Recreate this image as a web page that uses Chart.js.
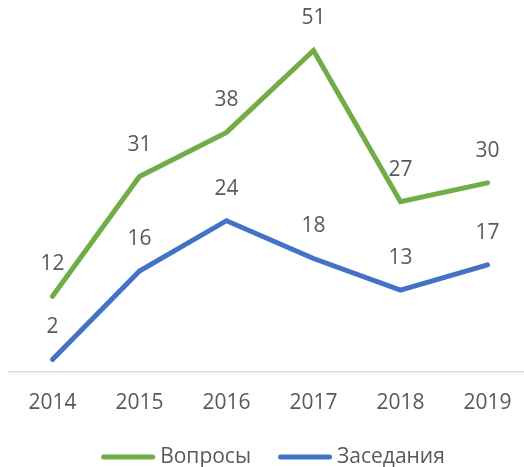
<!DOCTYPE html>
<html>
<head>
<meta charset="utf-8">
<script src="https://cdn.jsdelivr.net/npm/chart.js@4/dist/chart.umd.min.js"></script>
<style>
  html, body { margin: 0; padding: 0; background: #fff; overflow: hidden; }
  #wrap { width: 532px; height: 467px; }
</style>
</head>
<body>
<div id="wrap"><canvas id="myChart"></canvas></div>
<script>
const years = ['2014', '2015', '2016', '2017', '2018', '2019'];
const questions = [12, 31, 38, 51, 27, 30];
const meetings = [2, 16, 24, 18, 13, 17];

const textColor = '#595959';
const fontFamily = "'Open Sans', sans-serif";
const fontSize = 21;

// writes each point's value above it
const valueLabels = {
    id: 'valueLabels',
    afterDatasetsDraw(chart) {
        const c = chart.ctx;
        c.save();
        c.font = fontSize + 'px ' + fontFamily;
        c.fillStyle = textColor;
        c.textAlign = 'center';
        c.textBaseline = 'middle';
        chart.data.datasets.forEach((ds, i) => {
            chart.getDatasetMeta(i).data.forEach((pt, j) => {
                c.fillText(ds.data[j], pt.x, pt.y - 32);
            });
        });
        c.restore();
    }
};

// legend at the bottom: short thick line, then the series name
const lineLegend = {
    id: 'lineLegend',
    afterDraw(chart) {
        const c = chart.ctx;
        const box = 54, gap = 5, spacing = 27;
        c.save();
        c.font = fontSize + 'px ' + fontFamily;
        const items = chart.data.datasets.map(ds => ({
            text: ds.label,
            color: ds.borderColor,
            w: box + gap + c.measureText(ds.label).width
        }));
        const total = items.reduce((s, it) => s + it.w, 0) + spacing * (items.length - 1);
        let x = 273 - total / 2;
        const y = chart.height - 10;
        c.textBaseline = 'middle';
        c.textAlign = 'left';
        items.forEach(it => {
            c.strokeStyle = it.color;
            c.lineWidth = 5;
            c.lineCap = 'round';
            c.beginPath();
            c.moveTo(x + 2.5, y);
            c.lineTo(x + box - 2.5, y);
            c.stroke();
            c.fillStyle = textColor;
            c.fillText(it.text, x + box + gap, y);
            x += it.w + spacing;
        });
        c.restore();
    }
};

const ctx = document.querySelector('#myChart');

const graph = new Chart(ctx, {
    type: 'line',
    data: {
        labels: years,
        datasets: [{
            label: 'Вопросы',
            data: questions,
            borderColor: '#70AD47',
            backgroundColor: '#70AD47',
            borderWidth: 5,
            borderCapStyle: 'round',
            pointRadius: 0,
            tension: 0
        }, {
            label: 'Заседания',
            data: meetings,
            borderColor: '#4472C4',
            backgroundColor: '#4472C4',
            borderWidth: 5,
            borderCapStyle: 'round',
            pointRadius: 0,
            tension: 0
        }]
    },
    options: {
        responsive: true,
        maintainAspectRatio: false,
        animation: false,
        layout: {
            padding: { left: 9, right: 1, top: 0, bottom: 35 }
        },
        scales: {
            x: {
                offset: true,
                grid: { display: false, drawTicks: false },
                border: { display: true, color: '#D9D9D9', width: 1.5 },
                ticks: {
                    color: textColor,
                    font: { family: fontFamily, size: fontSize },
                    padding: 18
                },
                afterFit(scale) {
                    scale.height = 60;
                }
            },
            y: {
                display: false,
                min: 0,
                max: 59
            }
        },
        plugins: {
            legend: { display: false },
            tooltip: { enabled: false }
        }
    },
    plugins: [valueLabels, lineLegend]
});
</script>
</body>
</html>
